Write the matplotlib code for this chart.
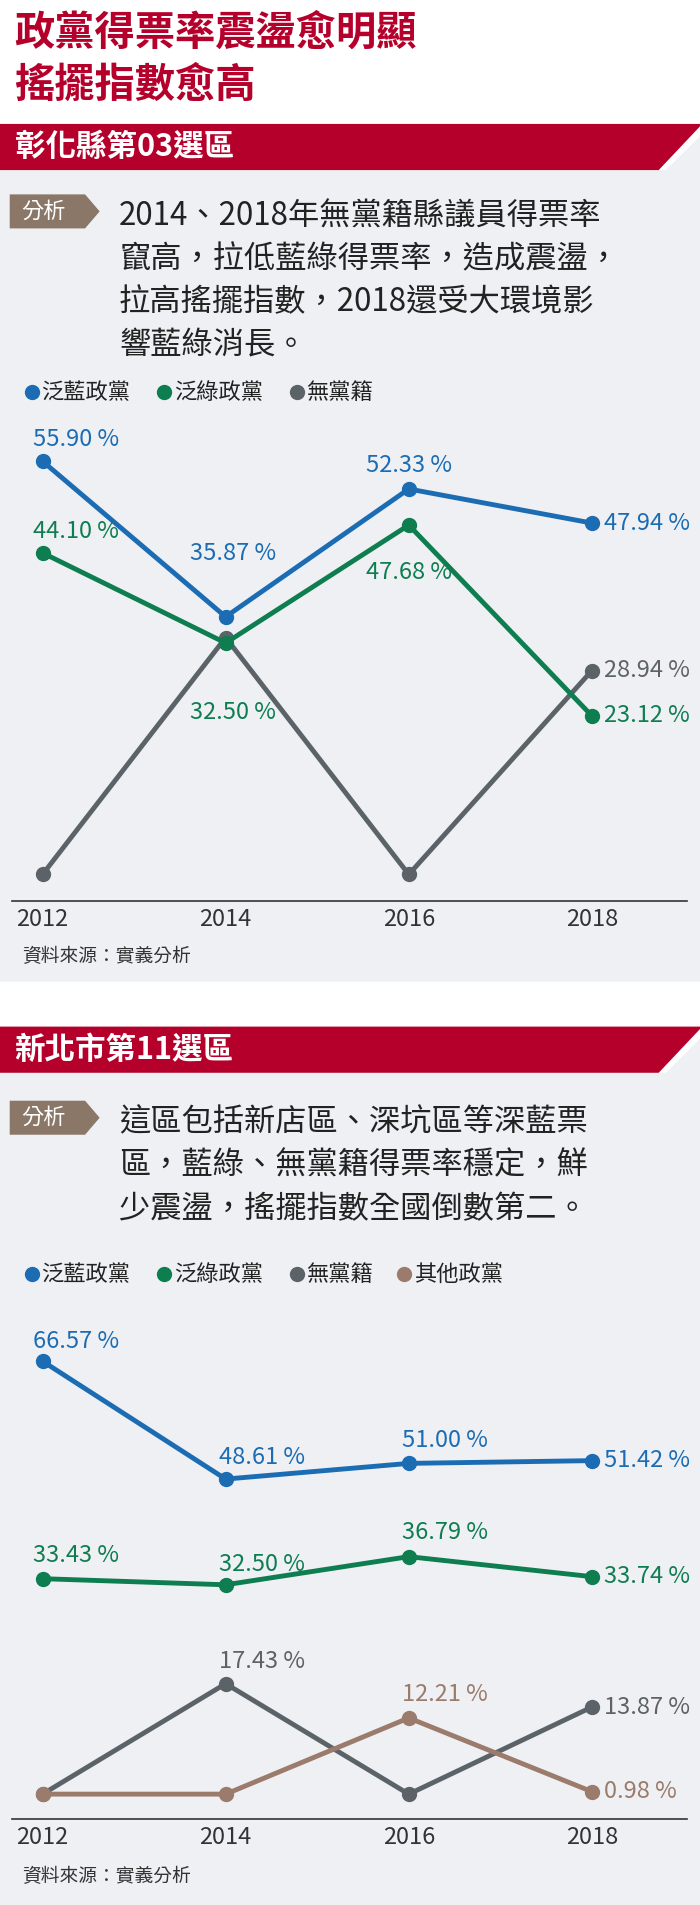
import matplotlib
matplotlib.use("Agg")
import matplotlib.pyplot as plt
from matplotlib.patches import Polygon

plt.rcParams["font.family"] = ["Noto Sans CJK TC", "DejaVu Sans"]

years = [2012, 2014, 2016, 2018]
c1_blue = [55.90, 35.87, 52.33, 47.94]
c1_green = [44.10, 32.50, 47.68, 23.12]
c1_grey = [2.7, 33.2, 2.7, 28.94]
c2_blue = [66.57, 48.61, 51.00, 51.42]
c2_green = [33.43, 32.50, 36.79, 33.74]
c2_grey = [0.6, 17.43, 0.6, 13.87]
c2_brown = [0.6, 0.6, 12.21, 0.98]

BLUE, GREEN, GREY, BROWN = "#1c6cb4", "#0e7d50", "#5b6369", "#9b7b6b"
RED = "#b4002b"
W, H = 576, 1568
fig = plt.figure(figsize=(7, 19.05), dpi=100)
bg = fig.add_axes([0, 0, 1, 1])
bg.set_xlim(0, W); bg.set_ylim(H, 0); bg.axis("off")

def P(pts, c, z=1):
    bg.add_patch(Polygon(pts, closed=True, fc=c, ec="none", zorder=z))

bg.text(12, 27, "政黨得票率震盪愈明顯", color=RED, fontsize=29, fontweight="bold", va="center")
bg.text(12, 70, "搖擺指數愈高", color=RED, fontsize=29, fontweight="bold", va="center")

def section(top, bottom, name, para, legend, tag_y):
    P([(0, top + 38), (548, top + 38), (576, top + 10), (576, bottom), (0, bottom)], "#eef0f3")
    P([(0, top), (576, top), (576, top + 2), (542, top + 38), (0, top + 38)], RED, 2)
    bg.text(12, top + 19, name, color="white", fontsize=22, fontweight="bold", va="center", zorder=3)
    P([(8, tag_y - 14), (70, tag_y - 14), (82, tag_y), (70, tag_y + 14), (8, tag_y + 14)], "#8a7768", 2)
    bg.text(36, tag_y, "分析", color="white", fontsize=16, ha="center", va="center", zorder=3)
    for i, line in enumerate(para):
        bg.text(98, tag_y + 4 + i * 35.5, line, fontsize=22.5, va="center", color="#222222")
    x = 20
    ly = legend[0]
    for lab, c in legend[1]:
        bg.plot([x + 6], [ly], "o", color=c, ms=10)
        bg.text(x + 14, ly, lab, fontsize=16, va="center", color="#222222")
        x += 14 + 20.5 * len(lab) + 13

section(102, 808, "彰化縣第03選區",
        ["2014、2018年無黨籍縣議員得票率", "竄高，拉低藍綠得票率，造成震盪，",
         "拉高搖擺指數，2018還受大環境影", "響藍綠消長。"],
        (323, [("泛藍政黨", BLUE), ("泛綠政黨", GREEN), ("無黨籍", GREY)]), 174)
section(845, 1568, "新北市第11選區",
        ["這區包括新店區、深坑區等深藍票", "區，藍綠、無黨籍得票率穩定，鮮", "少震盪，搖擺指數全國倒數第二。"],
        (1049, [("泛藍政黨", BLUE), ("泛綠政黨", GREEN), ("無黨籍", GREY), ("其他政黨", BROWN)]), 920)

bg.text(18, 787, "資料來源：實義分析", fontsize=13.5, va="center", color="#333333")
bg.text(18, 1545, "資料來源：實義分析", fontsize=13.5, va="center", color="#333333")

K = 700 / 576 * 0.72  # ref px -> points

def chart(top, bottom, ylim, series, labels):
    ax = fig.add_axes([10 / W, 1 - bottom / H, 555 / W, (bottom - top) / H])
    ax.set_xlim(2011.668, 2019.035); ax.set_ylim(*ylim)
    ax.patch.set_alpha(0)
    for s in ["top", "right", "left"]:
        ax.spines[s].set_visible(False)
    ax.spines["bottom"].set_color("#333333"); ax.spines["bottom"].set_linewidth(1.2)
    ax.set_yticks([]); ax.set_xticks(years)
    ax.tick_params(axis="x", length=0, labelsize=17, pad=5, labelcolor="#333333")
    for vals, c in series:
        ax.plot(years, vals, color=c, lw=3.5, marker="o", ms=10, solid_capstyle="round", zorder=3)
    for (vals, c, i, dx, dy, ha) in labels:
        ax.annotate(f"{vals[i]:.2f} %", (years[i], vals[i]), xytext=(dx * K, -dy * K),
                    textcoords="offset points", color=c, fontsize=17, ha=ha, va="center")

chart(340, 742, (-0.78, 62.1),
      [(c1_grey, GREY), (c1_green, GREEN), (c1_blue, BLUE)],
      [(c1_blue, BLUE, 0, -8, -18, "left"), (c1_blue, BLUE, 1, 6, -52, "center"),
       (c1_blue, BLUE, 2, 0, -19, "center"), (c1_blue, BLUE, 3, 10, 0, "left"),
       (c1_green, GREEN, 0, -8, -18, "left"), (c1_green, GREEN, 1, 6, 57, "center"),
       (c1_green, GREEN, 2, 0, 39, "center"), (c1_green, GREEN, 3, 10, 0, "left"),
       (c1_grey, GREY, 3, 10, 0, "left")])
chart(1090, 1497, (-3.15, 72.2),
      [(c2_grey, GREY), (c2_brown, BROWN), (c2_green, GREEN), (c2_blue, BLUE)],
      [(c2_blue, BLUE, 0, -8, -16, "left"), (c2_blue, BLUE, 1, 30, -18, "center"),
       (c2_blue, BLUE, 2, 30, -19, "center"), (c2_blue, BLUE, 3, 10, 0, "left"),
       (c2_green, GREEN, 0, -8, -19, "left"), (c2_green, GREEN, 1, 30, -17, "center"),
       (c2_green, GREEN, 2, 30, -20, "center"), (c2_green, GREEN, 3, 10, 0, "left"),
       (c2_grey, GREY, 1, 30, -18, "center"), (c2_grey, GREY, 3, 10, 0, "left"),
       (c2_brown, BROWN, 2, 30, -19, "center"), (c2_brown, BROWN, 3, 10, 0, "left")])

fig.savefig("out.png", dpi=100)
